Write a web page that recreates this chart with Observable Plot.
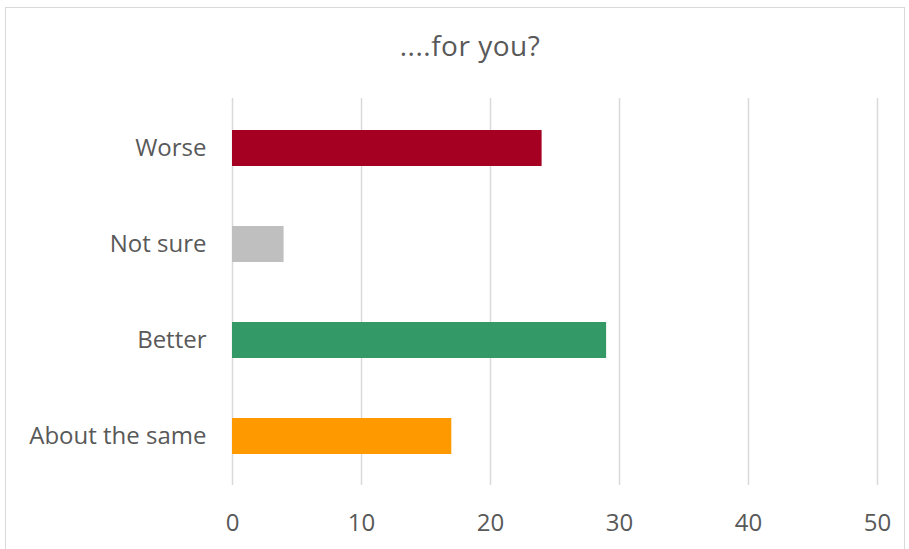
<!DOCTYPE html>
<html>
<head>
<meta charset="utf-8">
<script src="https://cdn.jsdelivr.net/npm/d3@7"></script>
<script src="https://cdn.jsdelivr.net/npm/@observablehq/plot@0.6"></script>
<style>
  html, body { margin: 0; padding: 0; background: #fff; }
  body { width: 909px; height: 549px; position: relative; overflow: hidden; font-family: "Open Sans", sans-serif; }
  #frame { position: absolute; left: 5px; top: 7px; width: 900px; height: 600px; border: 1.5px solid #d9d9d9; box-sizing: border-box; }
  #title { position: absolute; left: 0; width: 940px; top: 26px; text-align: center; font-size: 28px; letter-spacing: 0.5px; color: #595959; }
  #chart { position: absolute; left: 0; top: 0; }
</style>
</head>
<body>
<div id="frame"></div>
<div id="title">....for you?</div>
<div id="chart"></div>
<script>
const categories = ["Worse", "Not sure", "Better", "About the same"];
const values = [24, 4, 29, 17];
const colors = ["#a50021", "#bfbfbf", "#339966", "#ff9900"];
const xTicks = [0, 10, 20, 30, 40, 50];

const data = categories.map((c, i) => ({category: c, value: values[i], color: colors[i]}));

const chart = Plot.plot({
  width: 909,
  height: 549,
  marginTop: 98,
  marginBottom: 64,
  marginLeft: 232,
  marginRight: 32,
  style: {fontFamily: "Open Sans, sans-serif", fontSize: "24px", color: "#595959", background: "transparent"},
  x: {domain: [0, 50], ticks: xTicks, label: null},
  y: {domain: categories, paddingInner: 0.63, paddingOuter: 0.315, label: null},
  marks: [
    Plot.ruleX(xTicks, {stroke: "#d9d9d9", strokeWidth: 1.5, strokeOpacity: 1}),
    Plot.barX(data, {x: "value", y: "category", fill: "color"}),
    Plot.axisX({ticks: xTicks, tickSize: 0, tickPadding: 28, fill: "#595959", fontSize: 24}),
    Plot.axisY({tickSize: 0, tickPadding: 26, fill: "#595959", fontSize: 24})
  ]
});
document.getElementById("chart").appendChild(chart);
</script>
</body>
</html>
